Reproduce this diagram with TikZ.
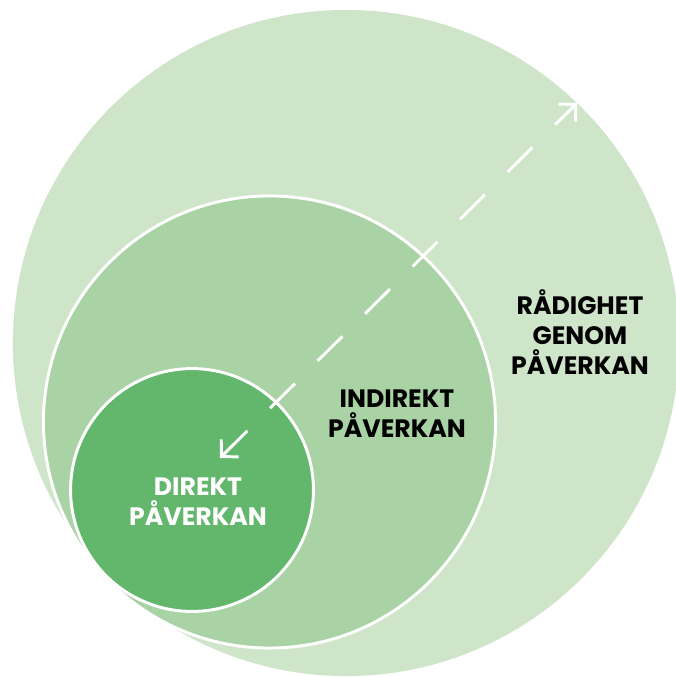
\documentclass[tikz,border=0pt]{standalone}
\usepackage{fontspec}
\setmainfont{Poppins}
\usepackage{xcolor}
\usetikzlibrary{positioning, arrows.meta}
\definecolor{GreenPale}{RGB}{207, 229, 202}
\definecolor{GreenMid}{RGB}{169, 211, 165}
\definecolor{GreenDeep}{RGB}{99, 183, 108}

\begin{document}
\begin{tikzpicture}[
                x=0.025cm, y=-0.025cm,
                ring/.style={circle, inner sep=0pt},
                label/.style={align=center, font=\fontsize{17.9}{21.3}\selectfont\bfseries}
            ]
                \useasboundingbox (0,0) rectangle (676,677);
                \clip (0,0) rectangle (676,677);

                % Circles
                \node[ring, fill=GreenPale, minimum size=16.65cm] (radighet) at (346,343) {};
                \node[ring, fill=GreenMid, draw=white, line width=2.1pt, minimum size=11.3cm] (indirekt) at (269.5,422) {};
                \node[ring, fill=GreenDeep, draw=white, line width=2.1pt, minimum size=6.07cm] (direkt) at (192,490) {};

                % Labels
                \node[label] (lblradighet) at (580,332) {RÅDIGHET\\GENOM\\PÅVERKAN};
                \node[label] (lblindirekt) at (397,414) {INDIREKT\\PÅVERKAN};
                \node[label, text=white] (lbldirekt) at (198,502) {DIREKT\\PÅVERKAN};

                % Dashed arrow
                \coordinate (utat) at (577,103);
                \coordinate (inat) at (220,458);
                \draw[white, line width=2.1pt, dash pattern=on 0.875cm off 0.80cm,
                      {Straight Barb[length=0.3cm, width=0.62cm, line width=2.1pt]}-{Straight Barb[length=0.3cm, width=0.62cm, line width=2.1pt]}]
                    (inat) -- (utat);
            \end{tikzpicture}
\end{document}
